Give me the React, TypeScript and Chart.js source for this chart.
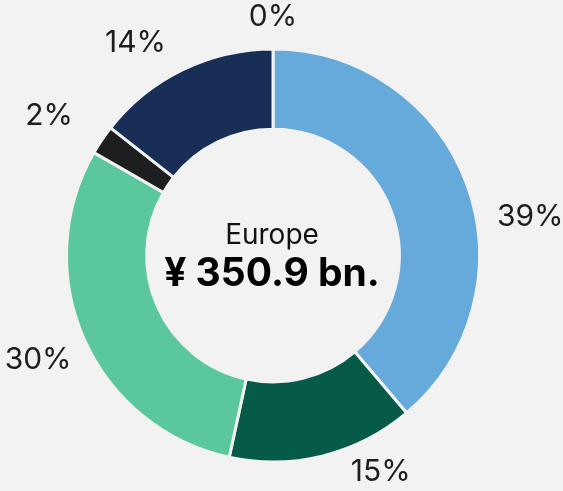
import React, { useEffect, useRef } from "react";
import { Chart, registerables } from "chart.js";

Chart.register(...registerables);

const categories = ["Segment A", "Segment B", "Segment C", "Segment D", "Segment E", "Segment F"];
const shares = [38.8, 14.6, 29.9, 2.3, 14.4, 0];
const colors = ["#66aadc", "#065a48", "#5bc79d", "#1d1e20", "#182e57", "#9aa0a6"];
const centerTitle = "Europe";
const centerValue = "¥ 350.9 bn.";

// label placement tweaks (degrees added to slice mid-angle, and radius in px)
const labelAngleShift = [11.7, -12.4, 0, -2, -7, 0];
const labelRadius = [260, 242, 257, 264, 253, 239];

const BG = "#f2f2f2";

const labelPlugin = {
  id: "sliceLabels",
  afterDraw(chart: any) {
    const ctx = chart.ctx;
    const meta = chart.getDatasetMeta(0);
    ctx.save();
    ctx.textAlign = "center";
    ctx.textBaseline = "middle";
    meta.data.forEach((arc: any, i: number) => {
      const mid = (arc.startAngle + arc.endAngle) / 2 + (labelAngleShift[i] * Math.PI) / 180;
      const r = labelRadius[i];
      const x = arc.x + r * Math.cos(mid);
      const y = arc.y + r * Math.sin(mid);
      ctx.font = "400 30px Inter";
      ctx.fillStyle = "#1e1e1e";
      ctx.fillText(Math.round(shares[i]) + "%", x, y);
    });
    const a0 = meta.data[0];
    if (a0) {
      ctx.fillStyle = "#111111";
      ctx.font = "400 28px Inter";
      ctx.textBaseline = "alphabetic";
      ctx.fillText(centerTitle, a0.x - 1, a0.y - 12);
      ctx.font = "700 39px Inter";
      ctx.fillStyle = "#000000";
      ctx.fillText(centerValue, a0.x - 1, a0.y + 30);
    }
    ctx.restore();
  },
};

export default function App() {
  const ref = useRef<HTMLCanvasElement | null>(null);
  useEffect(() => {
    document.body.style.margin = "0";
    document.body.style.background = BG;
    const chart = new Chart(ref.current as HTMLCanvasElement, {
      type: "doughnut",
      data: {
        labels: categories,
        datasets: [
          {
            data: shares,
            backgroundColor: colors,
            borderColor: BG,
            borderWidth: 3,
            hoverOffset: 0,
          },
        ],
      },
      options: {
        responsive: false,
        animation: false,
        radius: 206.5,
        cutout: 124.5,
        layout: { padding: { left: 68, right: 85, top: 50, bottom: 30 } },
        plugins: {
          legend: { display: false },
          tooltip: { enabled: false },
        },
      } as any,
      plugins: [labelPlugin],
    });
    return () => chart.destroy();
  }, []);
  return (
    <div style={{ width: 563, height: 491, background: BG }}>
      <canvas ref={ref} width={563} height={491} style={{ display: "block" }} />
    </div>
  );
}
